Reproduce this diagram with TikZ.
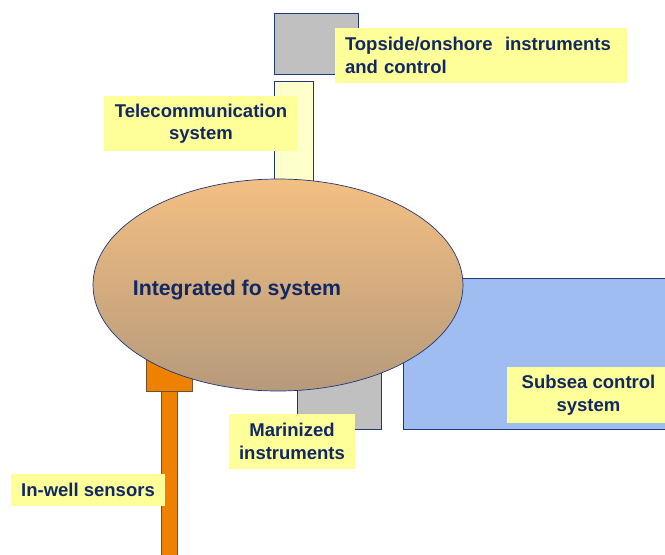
\documentclass[tikz,border=0pt]{standalone}
\usepackage{fontspec}
\setmainfont{Liberation Sans}
\usetikzlibrary{positioning,shapes.geometric}
\definecolor{navytext}{RGB}{16,40,100}
\definecolor{boxline}{RGB}{31,56,122}
\definecolor{greybox}{RGB}{192,192,192}
\definecolor{paleyellow}{RGB}{255,255,204}
\definecolor{labelyellow}{RGB}{255,255,153}
\definecolor{fibreorange}{RGB}{238,130,0}
\definecolor{orangeline}{RGB}{110,80,50}
\definecolor{subseablue}{RGB}{160,189,242}
\definecolor{ellipsetop}{RGB}{243,191,130}
\definecolor{ellipsebottom}{RGB}{182,154,124}

\begin{document}
\begin{tikzpicture}[x=1pt,y=-1pt,
        part/.style={rectangle,draw=boxline,line width=0.8pt,inner sep=0pt},
        tag/.style={rectangle,fill=labelyellow,inner sep=0pt,align=center,
            text=navytext,font=\fontsize{18.5}{22.5}\selectfont\bfseries}]
            \useasboundingbox (0,0) rectangle (665,555);
            % hardware behind the system
            \node [part,fill=subseablue,minimum width=267,minimum height=151] (subsea) at (536.5,353.5) {};
            \node [part,fill=greybox,minimum width=84,minimum height=74] (marine) at (339,392) {};
            \node [part,fill=fibreorange,draw=orangeline,minimum width=16,minimum height=166] (stem) at (169,474) {};
            \node [part,fill=fibreorange,draw=orangeline,minimum width=46,minimum height=42] (wellhead) at (169,370) {};
            \node [part,fill=paleyellow,minimum width=39,minimum height=119] (telecom) at (293.5,141) {};
            \node [part,fill=greybox,minimum width=84,minimum height=61] (topside) at (316,43.5) {};

            % the integrated system
            \node [ellipse,draw=boxline,line width=0.7pt,top color=ellipsetop,bottom color=ellipsebottom,
                minimum width=370,minimum height=212,inner sep=0pt] (fo) at (278,285) {};
            \node [text=navytext,font=\fontsize{21.3}{25}\selectfont\bfseries] (fotext) at (237,290) {Integrated fo system};

            % labels
            \node [tag,minimum width=292,minimum height=55,text width=272,align=left] (topsidetag) at (481,55.5)
                {Topside/onshore\ \ instruments\\and control};
            \node [tag,minimum width=194,minimum height=55] (telecomtag) at (201,123.5) {Telecommunication\\system};
            \node [tag,minimum width=126,minimum height=55] (marinetag) at (292,441.5) {Marinized\\instruments};
            \node [tag,minimum width=154,minimum height=32] (welltag) at (88,490) {In-well sensors};
            \node [tag,minimum width=163,minimum height=56] (subseatag) at (588.5,395) {Subsea control\\system};
        \end{tikzpicture}
\end{document}
